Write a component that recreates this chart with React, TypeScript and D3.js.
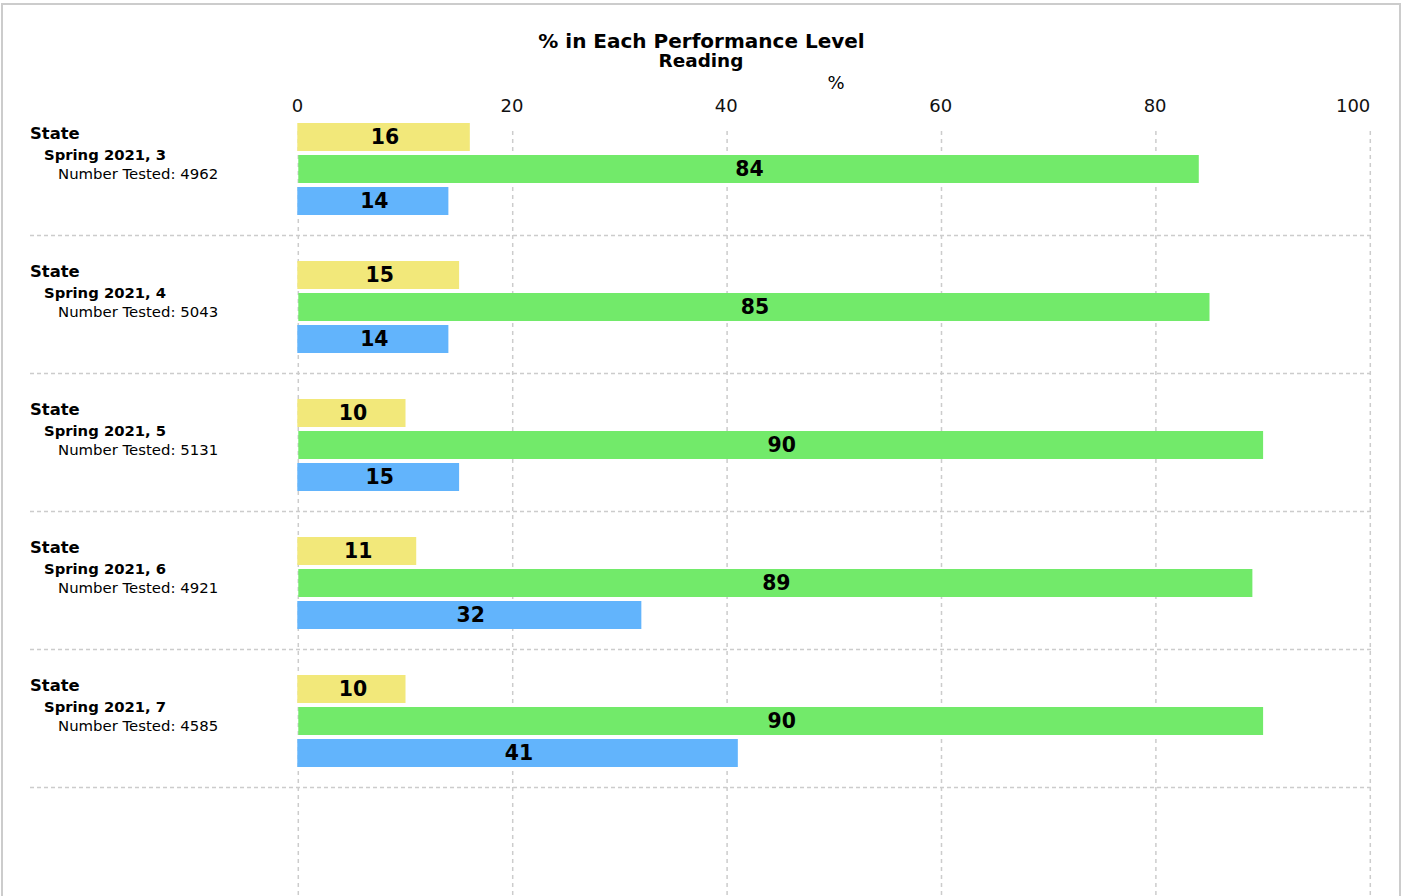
import React from "react";
import * as d3 from "d3";

const groups = ["3", "4", "5", "6", "7"];
const groupTitle = "State";
const groupSubtitles = ["Spring 2021, 3", "Spring 2021, 4", "Spring 2021, 5", "Spring 2021, 6", "Spring 2021, 7"];
const numberTested = [4962, 5043, 5131, 4921, 4585];
const series = ["yellow", "green", "blue"];
const seriesColors = ["#f2e87a", "#72ea6a", "#62b4fc"];
const yellowValues = [16, 15, 10, 11, 10];
const greenValues = [84, 85, 90, 89, 90];
const blueValues = [14, 14, 15, 32, 41];
const xTicks = [0, 20, 40, 60, 80, 100];

const FONT = "'DejaVu Sans', sans-serif";

export default function App() {
  if (typeof document !== "undefined") document.body.style.margin = "0";
  const W = 1402;
  const H = 896;
  const x = d3.scaleLinear().domain([0, 100]).range([298.3, 1370.3]);
  const y = d3.scaleBand<string>().domain(groups).range([97.5, 787.5]);
  const inner = d3.scaleBand<string>().domain(series).range([25.5, 117.5]).paddingInner(0.125);
  const valuesBySeries = [yellowValues, greenValues, blueValues];
  const color = d3.scaleOrdinal<string, string>().domain(series).range(seriesColors);

  return (
    <svg width={W} height={H} style={{ position: "absolute", left: 0, top: 0, display: "block" }} fontFamily={FONT}>
      <rect x={0} y={0} width={W} height={H} fill="#fff" />
      <rect x={2} y={4} width={1398} height={920} fill="none" stroke="#cccccc" strokeWidth={2} />
      <text x={701.5} y={48} textAnchor="middle" fontWeight="bold" fontSize={20}>% in Each Performance Level</text>
      <text x={701} y={66.8} textAnchor="middle" fontWeight="bold" fontSize={18.4}>Reading</text>
      <text x={836} y={89} textAnchor="middle" fontSize={18}>%</text>
      {xTicks.map((t, i) => {
        const last = i === xTicks.length - 1;
        return (
          <g key={t}>
            <text x={last ? x(t) : x(t) - 0.8} y={112} textAnchor={last ? "end" : "middle"} fontSize={18} fill="#111">{t}</text>
            <line x1={x(t)} x2={x(t)} y1={131} y2={H} stroke="#cccccc" strokeWidth={1.5} strokeDasharray="4,4" />
          </g>
        );
      })}
      {groups.map((g, i) => {
        const gy = y(g)!;
        return (
          <g key={g}>
            <line x1={30} x2={1372} y1={gy + y.bandwidth()} y2={gy + y.bandwidth()} stroke="#cccccc" strokeWidth={1.5} strokeDasharray="4,3" />
            <text x={30} y={gy + 41.5} fontWeight="bold" fontSize={16.4}>{groupTitle}</text>
            <text x={44} y={gy + 62} fontWeight="bold" fontSize={14.8}>{groupSubtitles[i]}</text>
            <text x={58} y={gy + 81.5} fontSize={14.9}>Number Tested: {numberTested[i]}</text>
            {series.map((s, k) => {
              const v = valuesBySeries[k][i];
              const by = gy + inner(s)!;
              return (
                <g key={s}>
                  <rect x={x(0) - (k === 1 ? 0 : 1)} y={by} width={x(v) - x(0) + (k === 1 ? 0 : 1)} height={inner.bandwidth()} fill={color(s)} />
                  <text x={(x(0) + x(v)) / 2 + 1} y={by + inner.bandwidth() / 2} dy="0.34em" textAnchor="middle" fontWeight="bold" fontSize={20.4} fill="#000">{v}</text>
                </g>
              );
            })}
          </g>
        );
      })}
    </svg>
  );
}
